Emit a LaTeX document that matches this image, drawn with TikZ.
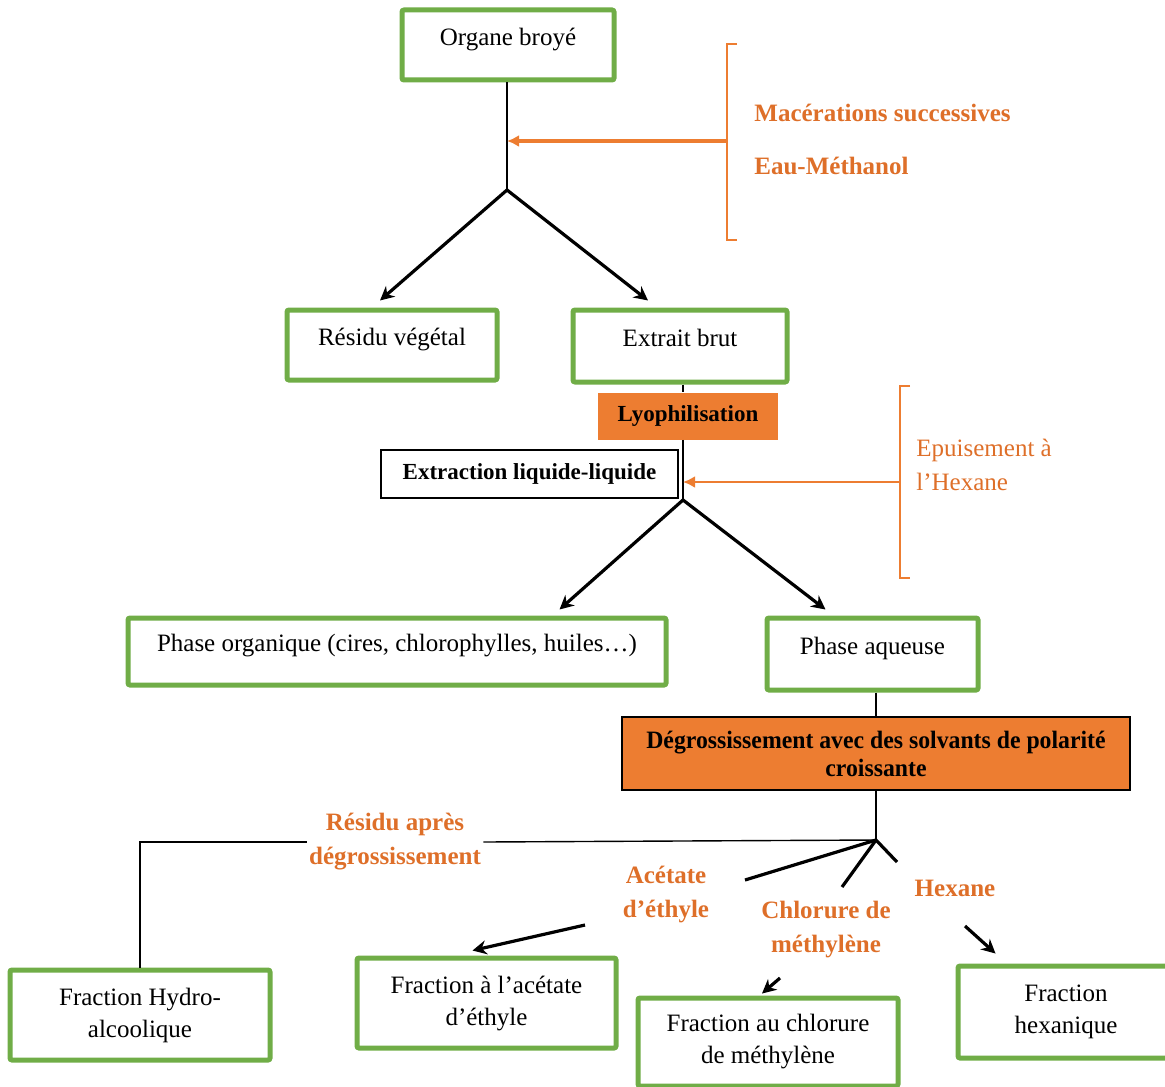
\documentclass[tikz,border=0pt]{standalone}
\usepackage{fontspec}
\setmainfont{Liberation Serif}
\newfontfamily\condfont[FakeStretch=0.95]{Liberation Serif}
\usetikzlibrary{calc,arrows.meta}
\definecolor{gr}{HTML}{70AD47}
\definecolor{orf}{HTML}{ED7D31}
\definecolor{ort}{HTML}{DE6F29}
\begin{document}
\begin{tikzpicture}[x=0.5pt,y=-0.5pt,
 gbox/.style={draw=gr, line width=2.5pt, rounded corners=1pt, fill=white, align=center, font=\fontsize{12.5}{16}\selectfont, inner sep=2pt},
 onel/.style={text depth=8.5pt},
 obox/.style={fill=orf, align=center, font=\bfseries\fontsize{11.5}{14}\selectfont, inner sep=2pt},
 lbl/.style={text=ort, font=\bfseries\fontsize{12.5}{17}\selectfont, align=center, inner sep=1pt},
 ln/.style={line width=0.7pt},
 thk/.style={line width=1.6pt},
 arr/.style={line width=1.6pt, -{Stealth[length=7pt,width=7pt]}},
 oarr/.style={draw=orf, -{Latex[length=6pt,width=6pt]}},
 brk/.style={draw=orf, line width=0.8pt}
]
\useasboundingbox (0,0) rectangle (1165,1086);

% boxes
\node[gbox, onel, minimum width=106pt, minimum height=35pt] (organe) at (508,45) {Organe broyé};
\node[gbox, onel, minimum width=105pt, minimum height=35pt] (residu) at (392,345) {Résidu végétal};
\node[gbox, onel, minimum width=107pt, minimum height=36pt] (extrait) at (680,346) {Extrait brut};
\node[obox, minimum width=90pt, minimum height=23.5pt] (lyo) at (688,416) {Lyophilisation};
\node[draw=black, line width=0.9pt, fill=white, font=\bfseries\fontsize{11.5}{14}\selectfont, minimum width=148.5pt, minimum height=24pt] (extr) at (529.5,474) {Extraction liquide-liquide};
\node[gbox, onel, minimum width=269pt, minimum height=33.5pt] (phorg) at (397,651.5) {Phase organique (cires, chlorophylles, huiles…)};
\node[gbox, onel, minimum width=105.5pt, minimum height=36pt] (phaq) at (872.5,654) {Phase aqueuse};
\node[obox, draw=black, line width=0.8pt, minimum width=254pt, minimum height=36.5pt, font=\condfont\bfseries\fontsize{12.5}{14}\selectfont] (degros) at (876,753.5) {Dégrossissement avec des solvants de polarité\\croissante};
\node[gbox, minimum width=130pt, minimum height=45pt] (hydro) at (140,1015) {Fraction Hydro-\\alcoolique};
\node[gbox, minimum width=129.5pt, minimum height=45pt] (acet) at (486.5,1003) {Fraction à l’acétate\\d’éthyle};
\node[gbox, minimum width=130pt, minimum height=44pt] (chlor) at (768,1042) {Fraction au chlorure\\de méthylène};
\node[gbox, minimum width=108pt, minimum height=46pt] (hexa) at (1066,1012) {Fraction\\hexanique};

% labels
\node[lbl, anchor=west, align=left] (mac) at (752,139) {Macérations successives\\[9.5pt]Eau-Méthanol};
\node[text=ort, anchor=west, align=left, font=\fontsize{12.5}{17}\selectfont, inner sep=1pt] (epu) at (914,465) {Epuisement à\\l’Hexane};
\node[lbl] (res) at (395,842) {Résidu après\\dégrossissement};
\node[lbl] (lac) at (666,894) {Acétate\\d’éthyle};
\node[lbl] (lch) at (826,930) {Chlorure de\\méthylène};
\node[lbl] (lhx) at (955,888) {Hexane};

% junction points
\coordinate (apex1) at (507,190);
\coordinate (apex2) at (683,500);
\coordinate (apex3) at (876,840);
\coordinate (b1) at (727,141);
\coordinate (b2) at (900,482);
\coordinate (a1) at (745,880);
\coordinate (a2) at (842,887);
\coordinate (a3) at (897,862);
\coordinate (c1) at (585,925);
\coordinate (c2) at (780,978);
\coordinate (c3) at (965,926);

% top
\draw[ln] (organe.south -| apex1) -- (apex1);
\draw[arr] (apex1) -- ($(residu.north)+(-12,-7)$);
\draw[arr] (apex1) -- ($(extrait.north)+(-32,-7)$);
\draw[brk] (737,44) -- (727,44) -- (727,240) -- (737,240);
\draw[oarr, line width=2.2pt] (b1) -- (apex1 |- b1);

% middle
\draw[ln] (extrait.south -| apex2) -- (lyo.north -| apex2);
\draw[ln] (lyo.south -| apex2) -- (apex2);
\draw[brk] (910,386) -- (900,386) -- (900,578) -- (910,578);
\draw[oarr, line width=1.2pt] (b2) -- (apex2 |- b2);
\draw[arr] (apex2) -- ($(phorg.north east)+(-109,-6)$);
\draw[arr] (apex2) -- ($(phaq.north west)+(61,-6)$);

% lower
\draw[ln] (phaq.south -| apex3) -- (degros.north -| apex3);
\draw[ln] (degros.south -| apex3) -- (apex3);
\draw[ln] (apex3) -- (res.east);
\draw[ln] (res.west) -| (hydro.north);
\draw[thk] (apex3) -- (a1);
\draw[thk] (apex3) -- (a2);
\draw[thk] (apex3) -- (a3);
\draw[arr] (c1) -- ($(acet.north)+(-14,-5)$);
\draw[arr] (c2) -- ($(chlor.north)+(-6,-2)$);
\draw[arr] (c3) -- ($(hexa.north west)+(40,-10)$);
\end{tikzpicture}
\end{document}
